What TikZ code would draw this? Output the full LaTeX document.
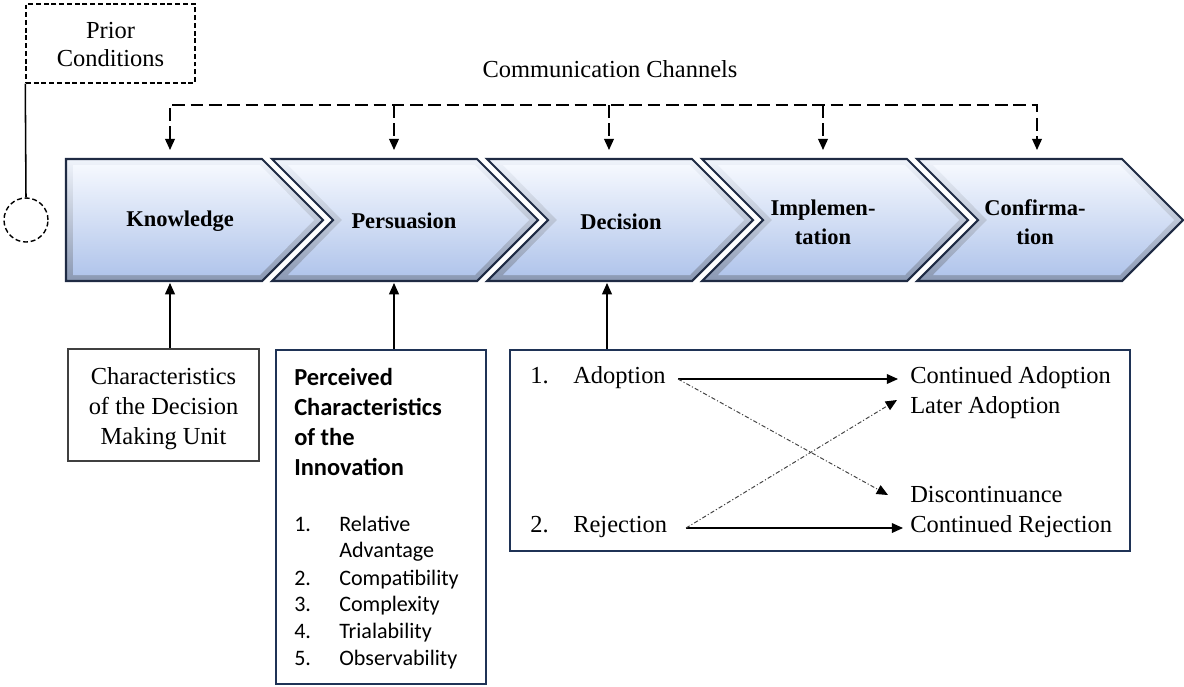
\documentclass[tikz,border=0pt]{standalone}
\usepackage{fontspec}
\setmainfont{Liberation Serif}
\newfontfamily\tnr{Liberation Serif}
\newfontfamily\calib{Carlito}
\usetikzlibrary{arrows.meta}
\definecolor{chevline}{HTML}{1F2B44}
\definecolor{boxblue}{HTML}{1F3356}
\definecolor{chevtop}{HTML}{F5F8FE}
\definecolor{chevbot}{HTML}{B1C5EB}
\definecolor{beveltop}{HTML}{F0F4FB}
\definecolor{bevelbot}{HTML}{8A98B3}
\definecolor{dashgray}{HTML}{444444}
\begin{document}
\begin{tikzpicture}[x=0.025cm,y=-0.025cm,
  serif/.style={font=\tnr\fontsize{17.4}{21.3}\selectfont, inner sep=0pt},
  chevlabel/.style={font=\tnr\fontsize{16}{20.6}\selectfont\bfseries, inner sep=0pt},
  sanstitle/.style={font=\calib\fontsize{17.4}{21.3}\selectfont\bfseries, inner sep=0pt, anchor=base west},
  sansitem/.style={font=\calib\fontsize{15.7}{19.2}\selectfont, inner sep=0pt, anchor=base west},
  chevouter/.style={top color=beveltop, bottom color=bevelbot},
  chevinner/.style={top color=chevtop, bottom color=chevbot},
  chevborder/.style={draw=chevline, line width=1.5pt, line join=miter},
  commline/.style={dash pattern=on 9pt off 4pt, line width=1.1pt},
  tip/.style={-{Triangle[length=8pt,width=7pt]}},
  bigarr/.style={line width=0.8pt, -{Triangle[length=8pt,width=7pt]}},
  smallarr/.style={line width=0.8pt, -{Triangle[length=8pt,width=7pt]}},
  dashdot/.style={draw=dashgray, line width=0.7pt, dash pattern=on 3pt off 1.5pt on 0.8pt off 1.5pt,
                  -{Triangle[length=8pt,width=7pt,color=black]}},
  thinbox/.style={draw=black!75, line width=0.8pt},
  bluebox/.style={draw=boxblue, line width=1.4pt},
]
\useasboundingbox (0,0) rectangle (1184,686);

% ---------- chevrons ----------
% Knowledge (flat left side)
\path[chevouter] (66,159) -- (262,159) -- (323,220) -- (262,281) -- (66,281) -- cycle;
\path[chevinner] (73,165) -- (260,165) -- (314,220) -- (260,275) -- (73,275) -- cycle;
\path[chevborder] (66,159) -- (262,159) -- (323,220) -- (262,281) -- (66,281) -- cycle;
% notched chevrons
\foreach \L in {272,487,702,917} {
  \path[chevouter] (\L,159) -- (\L+205,159) -- (\L+266,220) -- (\L+205,281) -- (\L,281) -- (\L+61,220) -- cycle;
  \path[chevinner] (\L+16,165) -- (\L+203,165) -- (\L+257,220) -- (\L+203,275) -- (\L+16,275) -- (\L+70,220) -- cycle;
  \path[chevborder] (\L,159) -- (\L+205,159) -- (\L+266,220) -- (\L+205,281) -- (\L,281) -- (\L+61,220) -- cycle;
}
\node[chevlabel] (know) at (180,221) {Knowledge};
\node[chevlabel] (pers) at (404,221) {Persuasion};
\node[chevlabel] (deci) at (621,222) {Decision};
\node[chevlabel] (impl) at (823,224) {\begin{tabular}{@{}c@{}}Implemen-\\tation\end{tabular}};
\node[chevlabel] (conf) at (1035,224) {\begin{tabular}{@{}c@{}}Confirma-\\tion\end{tabular}};

% ---------- prior conditions ----------
\node[draw, dash pattern=on 3.5pt off 2pt, line width=1pt, minimum width=4.225cm, minimum height=1.975cm,
      font=\tnr\fontsize{17.4}{20}\selectfont, inner sep=0pt] (prior) at (110.5,43.5)
      {\raisebox{-2.2pt}[\height][\depth]{\begin{tabular}{@{}c@{}}Prior\\Conditions\end{tabular}}};
\node[draw, dash pattern=on 3.5pt off 2pt, line width=1pt, circle, minimum size=1.1cm, inner sep=0pt] (circ) at (26,220) {};
\draw[line width=1.1pt] (prior.south west) -- (circ.north);

% ---------- communication channels ----------
\node[serif] (comm) at (610,69) {Communication Channels};
\coordinate (c1) at (170,105);
\coordinate (c2) at (394,105);
\coordinate (c3) at (609,105);
\coordinate (c4) at (823,105);
\coordinate (c5) at (1037,105);
\coordinate (t1) at (170,150);
\coordinate (t2) at (394,150);
\coordinate (t3) at (609,150);
\coordinate (t4) at (823,150);
\coordinate (t5) at (1037,150);
\draw[commline, {Triangle[length=8pt,width=7pt]}-{Triangle[length=8pt,width=7pt]}] (t1) -- (c1) -- (c5) -- (t5);
\draw[commline, tip] (c2) -- (t2);
\draw[commline, tip] (c3) -- (t3);
\draw[commline, tip] (c4) -- (t4);

% ---------- bottom boxes ----------
\node[thinbox, minimum width=4.775cm, minimum height=2.8cm,
      font=\tnr\fontsize{17.4}{21.3}\selectfont, inner sep=0pt] (dmu) at (163.5,405)
      {\raisebox{-2.2pt}[\height][\depth]{\begin{tabular}{@{}c@{}}Characteristics\\of the Decision\\Making Unit\end{tabular}}};
\node[bluebox, minimum width=5.25cm, minimum height=8.35cm] (perc) at (381,517) {};
\node[bluebox, minimum width=15.5cm, minimum height=5.025cm] (decb) at (820,450.5) {};

\coordinate (kb) at (170,283);
\coordinate (pb) at (394,283);
\coordinate (db) at (607,283);
\draw[bigarr] (kb |- dmu.north) -- (kb);
\draw[bigarr] (pb |- perc.north) -- (pb);
\draw[bigarr] (db |- decb.north) -- (db);

% perceived characteristics text
\node[sanstitle] (p1) at (294,385) {Perceived};
\node[sanstitle] (p2) at (294,415) {Characteristics};
\node[sanstitle] (p3) at (294,445) {of the};
\node[sanstitle] (p4) at (294,475) {Innovation};
\node[sansitem] (n1) at (294,531) {1.};
\node[sansitem] (i1) at (339,531) {Relative};
\node[sansitem] (i1b) at (339,557) {Advantage};
\node[sansitem] (n2) at (294,585) {2.};
\node[sansitem] (i2) at (339,585) {Compatibility};
\node[sansitem] (n3) at (294,611) {3.};
\node[sansitem] (i3) at (339,611) {Complexity};
\node[sansitem] (n4) at (294,638) {4.};
\node[sansitem] (i4) at (339,638) {Trialability};
\node[sansitem] (n5) at (294,665) {5.};
\node[sansitem] (i5) at (339,665) {Observability};

% decision box text
\node[serif, anchor=base west] (d1) at (530,383) {1.};
\node[serif, anchor=base west] (adop) at (573,383) {Adoption};
\node[serif, anchor=base west] (d2) at (530,532) {2.};
\node[serif, anchor=base west] (rej) at (573,532) {Rejection};
\node[serif, anchor=base west] (cad) at (910,383) {Continued Adoption};
\node[serif, anchor=base west] (lad) at (910,413) {Later Adoption};
\node[serif, anchor=base west] (dis) at (910,502) {Discontinuance};
\node[serif, anchor=base west] (cre) at (910,532) {Continued Rejection};

\coordinate (aS) at (678,379);
\coordinate (rS) at (686,528);
\coordinate (caT) at (898,379);
\coordinate (crT) at (903,528);
\coordinate (laT) at (897,400);
\coordinate (diT) at (888,495);
\draw[smallarr] (aS) -- (caT);
\draw[smallarr] (rS) -- (crT);
\draw[dashdot] (aS) -- (diT);
\draw[dashdot] (rS) -- (laT);
\end{tikzpicture}
\end{document}
